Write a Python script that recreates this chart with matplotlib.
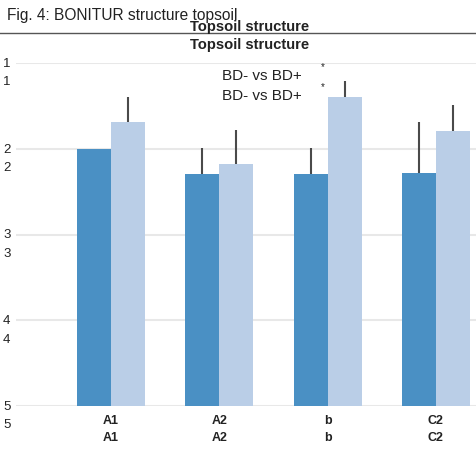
import matplotlib
matplotlib.use("Agg")
import matplotlib.pyplot as plt
from matplotlib.transforms import blended_transform_factory

plt.rcParams['font.family'] = ['Liberation Sans', 'DejaVu Sans']

categories = ["A1", "A2", "b", "C2"]
bd_minus = [2.00, 2.29, 2.29, 2.28]
bd_minus_err = [0.00, 0.30, 0.30, 0.59]
bd_plus = [1.69, 2.18, 1.40, 1.79]
bd_plus_err = [0.29, 0.40, 0.19, 0.30]
y_ticks = [1, 2, 3, 4, 5]
sig_marks = ["*", "*"]

dark = "#4a90c4"
light = "#bacee7"
W, H = 477, 452

fig = plt.figure(figsize=(W / 100, H / 100), dpi=100)

def px(x, y):
    return x / W, 1 - y / H

ax = fig.add_axes([16 / W, (H - 407) / H, (477 - 16) / W, (407 - 64) / H])
ax.set_xlim(-0.877, 3.38)
ax.set_ylim(5, 1)
for s in ax.spines.values():
    s.set_visible(False)
ax.set_xticks([])
ax.set_yticks([])

for t in y_ticks:
    ax.axhline(t, color="#e8e8e8", lw=1.5, zorder=0)

w = 0.314
xs = list(range(len(categories)))
ax.bar([x - w / 2 for x in xs], [v - 5 for v in bd_minus], bottom=5, width=w,
       color=dark, zorder=2)
ax.bar([x + w / 2 for x in xs], [v - 5 for v in bd_plus], bottom=5, width=w,
       color=light, zorder=2)
ax.errorbar([x - w / 2 for x in xs], bd_minus,
            yerr=[bd_minus_err, [0] * len(xs)], fmt="none",
            ecolor="#4a4a4a", elinewidth=1.5, capsize=0, zorder=3)
ax.errorbar([x + w / 2 for x in xs], bd_plus,
            yerr=[bd_plus_err, [0] * len(xs)], fmt="none",
            ecolor="#4a4a4a", elinewidth=1.5, capsize=0, zorder=3)

# doubled tick labels
ytr = blended_transform_factory(fig.transFigure, ax.transData)
for t in y_ticks:
    ax.text(3 / W, t, str(t), transform=ytr, ha="left", va="center",
            fontsize=9.5, color="#222")
    ax.annotate(str(t), xy=(3 / W, t), xycoords=ytr, xytext=(0, -13.3),
                textcoords="offset points", ha="left", va="center",
                fontsize=9.5, color="#222")

xtr = blended_transform_factory(ax.transData, fig.transFigure)
for x, c in zip(xs, categories):
    for yy in (421, 438):
        ax.text(x, 1 - yy / H, c, transform=xtr, ha="center", va="center",
                fontsize=9, fontweight="bold", color="#222")

# header
fig.text(*px(7, 15.5), "Fig. 4: BONITUR structure topsoil", ha="left",
         va="center", fontsize=11.2, color="#222")
fig.text(*px(250, 26.5), "Topsoil structure", ha="center", va="center",
         fontsize=10.6, fontweight="bold", color="#222")
fig.text(*px(250, 45.5), "Topsoil structure", ha="center", va="center",
         fontsize=10.6, fontweight="bold", color="#222")
fig.add_artist(plt.Line2D([0, 1], [1 - 34 / H] * 2, color="#555", lw=1.0,
                          transform=fig.transFigure))

# comparison annotation
for yy in (76, 96):
    fig.text(*px(222, yy), "BD- vs BD+", ha="left", va="center",
             fontsize=11, color="#222")
for yy, m in zip((67, 87), sig_marks):
    fig.text(*px(323, yy), m, ha="center", va="center", fontsize=7,
             color="#222")

fig.savefig("out.png", dpi=100)
